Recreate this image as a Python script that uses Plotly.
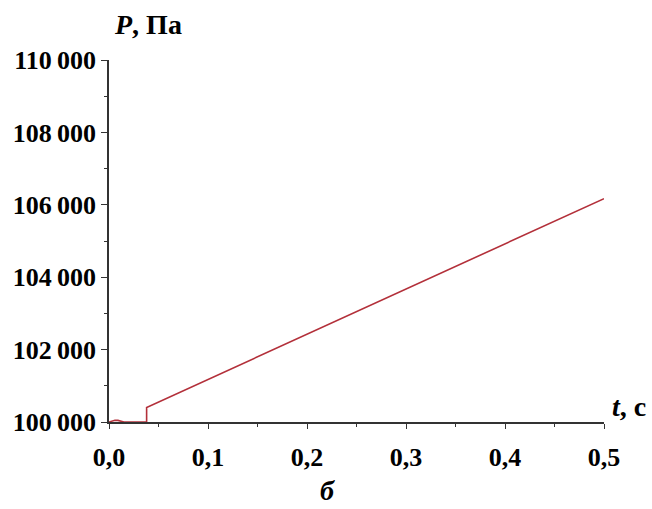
import plotly.graph_objects as go

t_values = [0.0, 0.003, 0.006, 0.009, 0.012, 0.015, 0.038, 0.038, 0.5]
p_values = [100000, 100030, 100050, 100045, 100025, 100000, 100000, 100400, 106170]

x_ticks = [0.0, 0.1, 0.2, 0.3, 0.4, 0.5]
y_ticks = [100000, 102000, 104000, 106000, 108000, 110000]

W, H = 652, 509
L, R, T, B = 109, 48, 60, 87
PW, PH = W - L - R, H - T - B

font_family = "Liberation Serif, Times New Roman, serif"


def px(x):
    return (x - L) / PW


def py(y):
    return (H - B - y) / PH


fig = go.Figure()
fig.add_trace(go.Scatter(
    x=t_values, y=p_values, mode="lines",
    line=dict(color="#b3303a", width=1.6),
    showlegend=False, hoverinfo="skip",
))

fig.update_layout(
    width=W, height=H,
    margin=dict(l=L, r=R, t=T, b=B),
    paper_bgcolor="white", plot_bgcolor="white",
    separators=",\u2009",
    font=dict(family=font_family, color="black"),
)

fig.update_xaxes(
    range=[0, 0.5], tickvals=x_ticks, tickformat=".1f",
    showgrid=False, zeroline=False,
    showline=True, linecolor="#333333", linewidth=1.5,
    ticks="outside", ticklen=5, tickwidth=1.2, tickcolor="#333333",
    tickfont=dict(size=26, family=font_family, color="black", weight="bold"),
    minor=dict(dtick=0.05, tick0=0, ticks="outside", ticklen=3, tickwidth=1, tickcolor="#333333", showgrid=False),
    ticklabelstandoff=6,
)
fig.update_yaxes(
    range=[100000, 110000], tickvals=y_ticks, tickformat=",.0f",
    showgrid=False, zeroline=False,
    showline=True, linecolor="#333333", linewidth=1.5,
    ticks="outside", ticklen=6, tickwidth=1.2, tickcolor="#333333",
    tickfont=dict(size=26, family=font_family, color="black", weight="bold"),
    minor=dict(dtick=1000, tick0=0, ticks="outside", ticklen=3, tickwidth=1, tickcolor="#333333", showgrid=False),
    ticklabelstandoff=0,
)

fig.add_annotation(
    x=px(112), y=py(24), xref="paper", yref="paper",
    xanchor="left", yanchor="middle", showarrow=False,
    text="<b><i>P</i>, Па</b>",
    font=dict(size=28, family=font_family, color="black"),
)
fig.add_annotation(
    x=px(610), y=py(406), xref="paper", yref="paper",
    xanchor="left", yanchor="middle", showarrow=False,
    text="<b><i>t</i>, с</b>",
    font=dict(size=28, family=font_family, color="black"),
)
fig.add_annotation(
    x=px(327), y=py(490), xref="paper", yref="paper",
    xanchor="center", yanchor="middle", showarrow=False,
    text="<b><i>б</i></b>",
    font=dict(size=28, family=font_family, color="black"),
)

fig.write_html("out.html")
